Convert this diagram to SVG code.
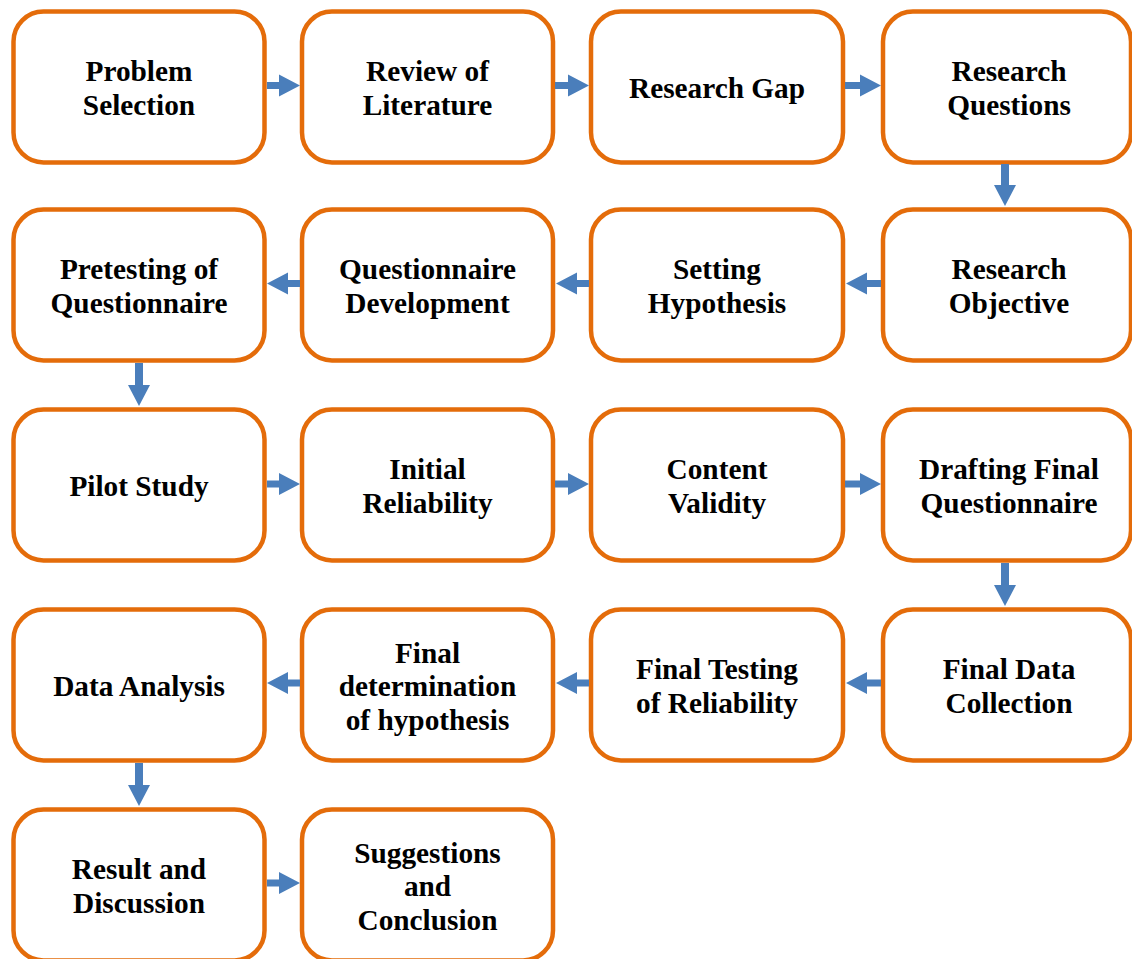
<svg xmlns="http://www.w3.org/2000/svg" width="1132" height="959" viewBox="0 0 1132 959">
  <style>
    .box { fill: #FFFFFF; stroke: #E46C0A; stroke-width: 4.5; }
    .lbl { font-family: "Liberation Serif", "Times New Roman", serif; font-weight: bold; font-size: 29.3px; fill: #000000; text-anchor: middle; }
    .arr { fill: #4A7EBB; stroke: none; }
  </style>
  <rect width="1132" height="959" fill="#FFFFFF"/>

  <!-- Row 1 -->
  <g id="problem-selection">
    <rect class="box" x="13.5" y="11.5" width="251" height="151" rx="30"/>
    <text class="lbl" x="139" y="81">Problem</text>
    <text class="lbl" x="139" y="114.5">Selection</text>
  </g>
  <g id="review-literature">
    <rect class="box" x="302" y="11.5" width="251" height="151" rx="30"/>
    <text class="lbl" x="427.5" y="81">Review of</text>
    <text class="lbl" x="427.5" y="114.5">Literature</text>
  </g>
  <g id="research-gap">
    <rect class="box" x="591" y="11.5" width="252" height="151" rx="30"/>
    <text class="lbl" x="717" y="98">Research Gap</text>
  </g>
  <g id="research-questions">
    <rect class="box" x="883" y="11.5" width="248" height="151" rx="30"/>
    <text class="lbl" x="1009" y="81">Research</text>
    <text class="lbl" x="1009" y="114.5">Questions</text>
  </g>

  <!-- Row 2 -->
  <g id="pretesting">
    <rect class="box" x="13.5" y="209.5" width="251" height="151" rx="30"/>
    <text class="lbl" x="139" y="279">Pretesting of</text>
    <text class="lbl" x="139" y="312.5">Questionnaire</text>
  </g>
  <g id="questionnaire-development">
    <rect class="box" x="302" y="209.5" width="251" height="151" rx="30"/>
    <text class="lbl" x="427.5" y="279">Questionnaire</text>
    <text class="lbl" x="427.5" y="312.5">Development</text>
  </g>
  <g id="setting-hypothesis">
    <rect class="box" x="591" y="209.5" width="252" height="151" rx="30"/>
    <text class="lbl" x="717" y="279">Setting</text>
    <text class="lbl" x="717" y="312.5">Hypothesis</text>
  </g>
  <g id="research-objective">
    <rect class="box" x="883" y="209.5" width="248" height="151" rx="30"/>
    <text class="lbl" x="1009" y="279">Research</text>
    <text class="lbl" x="1009" y="312.5">Objective</text>
  </g>

  <!-- Row 3 -->
  <g id="pilot-study">
    <rect class="box" x="13.5" y="409.5" width="251" height="151" rx="30"/>
    <text class="lbl" x="139" y="496">Pilot Study</text>
  </g>
  <g id="initial-reliability">
    <rect class="box" x="302" y="409.5" width="251" height="151" rx="30"/>
    <text class="lbl" x="427.5" y="479">Initial</text>
    <text class="lbl" x="427.5" y="512.5">Reliability</text>
  </g>
  <g id="content-validity">
    <rect class="box" x="591" y="409.5" width="252" height="151" rx="30"/>
    <text class="lbl" x="717" y="479">Content</text>
    <text class="lbl" x="717" y="512.5">Validity</text>
  </g>
  <g id="drafting-final">
    <rect class="box" x="883" y="409.5" width="248" height="151" rx="30"/>
    <text class="lbl" x="1009" y="479">Drafting Final</text>
    <text class="lbl" x="1009" y="512.5">Questionnaire</text>
  </g>

  <!-- Row 4 -->
  <g id="data-analysis">
    <rect class="box" x="13.5" y="609.5" width="251" height="151" rx="30"/>
    <text class="lbl" x="139" y="696">Data Analysis</text>
  </g>
  <g id="final-determination">
    <rect class="box" x="302" y="609.5" width="251" height="151" rx="30"/>
    <text class="lbl" x="427.5" y="662.5">Final</text>
    <text class="lbl" x="427.5" y="696">determination</text>
    <text class="lbl" x="427.5" y="729.5">of hypothesis</text>
  </g>
  <g id="final-testing">
    <rect class="box" x="591" y="609.5" width="252" height="151" rx="30"/>
    <text class="lbl" x="717" y="679">Final Testing</text>
    <text class="lbl" x="717" y="712.5">of Reliability</text>
  </g>
  <g id="final-data-collection">
    <rect class="box" x="883" y="609.5" width="248" height="151" rx="30"/>
    <text class="lbl" x="1009" y="679">Final Data</text>
    <text class="lbl" x="1009" y="712.5">Collection</text>
  </g>

  <!-- Row 5 -->
  <g id="result-discussion">
    <rect class="box" x="13.5" y="809.5" width="251" height="151" rx="30"/>
    <text class="lbl" x="139" y="879">Result and</text>
    <text class="lbl" x="139" y="912.5">Discussion</text>
  </g>
  <g id="suggestions-conclusion">
    <rect class="box" x="302" y="809.5" width="251" height="151" rx="30"/>
    <text class="lbl" x="427.5" y="862.5">Suggestions</text>
    <text class="lbl" x="427.5" y="896">and</text>
    <text class="lbl" x="427.5" y="929.5">Conclusion</text>
  </g>

  <!-- Block arrows between steps -->
  <g id="connectors">
    <!-- row 1, left to right -->
    <polygon class="arr" points="267,82 279,82 279,74.5 300,85.5 279,96.5 279,89 267,89"/>
    <polygon class="arr" points="555,82 568,82 568,74.5 589,85.5 568,96.5 568,89 555,89"/>
    <polygon class="arr" points="845,82 860,82 860,74.5 881,85.5 860,96.5 860,89 845,89"/>
    <!-- down to row 2 -->
    <polygon class="arr" points="1001,164 1009,164 1009,185 1016,185 1005,206 994,185 1001,185"/>
    <!-- row 2, right to left -->
    <polygon class="arr" points="881,280 867,280 867,272.5 846,283.5 867,294.5 867,287 881,287"/>
    <polygon class="arr" points="589,280 577,280 577,272.5 556,283.5 577,294.5 577,287 589,287"/>
    <polygon class="arr" points="300,280 288,280 288,272.5 267,283.5 288,294.5 288,287 300,287"/>
    <!-- down to row 3 -->
    <polygon class="arr" points="135,363 143,363 143,385 150,385 139,406 128,385 135,385"/>
    <!-- row 3, left to right -->
    <polygon class="arr" points="267,480.5 279,480.5 279,473 300,484 279,495 279,487.5 267,487.5"/>
    <polygon class="arr" points="555,480.5 568,480.5 568,473 589,484 568,495 568,487.5 555,487.5"/>
    <polygon class="arr" points="845,480.5 860,480.5 860,473 881,484 860,495 860,487.5 845,487.5"/>
    <!-- down to row 4 -->
    <polygon class="arr" points="1001,563 1009,563 1009,585 1016,585 1005,606 994,585 1001,585"/>
    <!-- row 4, right to left -->
    <polygon class="arr" points="881,679.5 867,679.5 867,672 846,683 867,694 867,686.5 881,686.5"/>
    <polygon class="arr" points="589,679.5 577,679.5 577,672 556,683 577,694 577,686.5 589,686.5"/>
    <polygon class="arr" points="300,679.5 288,679.5 288,672 267,683 288,694 288,686.5 300,686.5"/>
    <!-- down to row 5 -->
    <polygon class="arr" points="135,763 143,763 143,785 150,785 139,806 128,785 135,785"/>
    <!-- row 5 -->
    <polygon class="arr" points="267,879.5 279,879.5 279,872 300,883 279,894 279,886.5 267,886.5"/>
  </g>
</svg>
